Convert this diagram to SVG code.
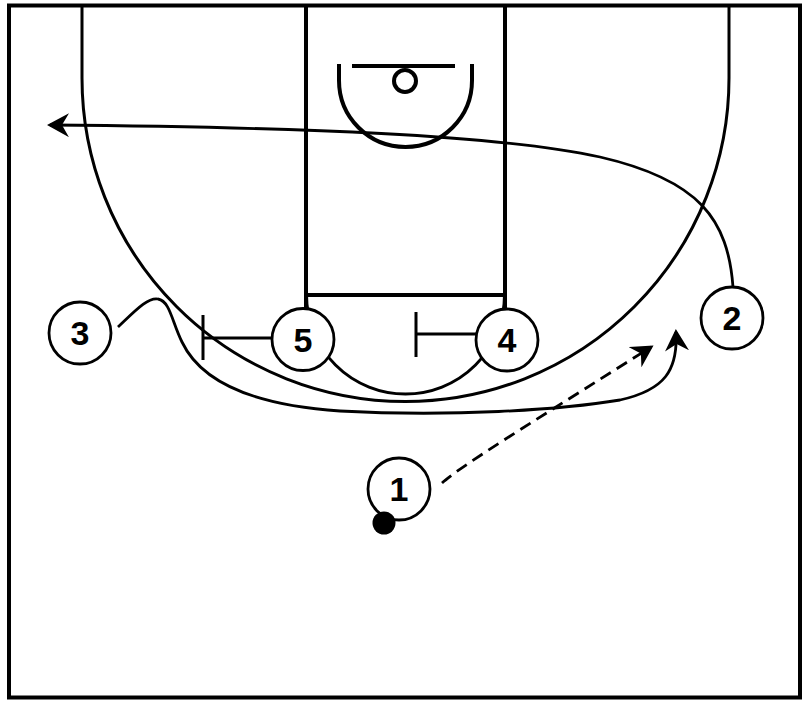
<svg xmlns="http://www.w3.org/2000/svg" width="808" height="704" viewBox="0 0 808 704">
<style>
.court{fill:none;stroke:#000;stroke-width:4}
.line{fill:none;stroke:#000;stroke-width:3}
.move{fill:none;stroke:#000;stroke-width:2.8}
.pass{fill:none;stroke:#000;stroke-width:2.8;stroke-dasharray:12 7}
.player circle{fill:#fff;stroke:#000;stroke-width:2.8}
.player text{font-family:"Liberation Sans",Arial,sans-serif;font-weight:bold;font-size:34px;text-anchor:middle}
</style>
<defs>
<marker id="arrow" markerUnits="userSpaceOnUse" viewBox="0 0 22 24" markerWidth="22" markerHeight="24" refX="19" refY="12" orient="auto">
<path d="M0,0 L22,12 L0,24 L7,12 Z" fill="#000"/>
</marker>
</defs>
<rect width="808" height="704" fill="#fff"/>
<g id="court">
<rect class="court" x="9" y="5.5" width="791" height="692"/>
<path class="court" d="M306,5 L306,312 M505,5 L505,312 M306,295 L505,295"/>
<path class="line" d="M306.5,295 A99,99 0 0 0 504.5,295"/>
<path class="line" d="M82,5 L82,78 A323.5,323.5 0 0 0 729,78 L729,5"/>
<path class="court" d="M339,64 L339,80.5 A66.5,66.5 0 0 0 472,80.5 L472,64"/>
<line class="court" x1="352" y1="66" x2="455" y2="66"/>
<circle class="court" cx="405" cy="81" r="11" stroke-width="3.2"/>
</g>
<g id="connectors">
<path class="move" d="M733,287 C728,220 700,180 600,157 C500,135 300,127 50,125" marker-end="url(#arrow)"/>
<path class="move" d="M118,327 C135,311 148,297 158,299 C170,301 172,322 182,342 C200,380 250,405 340,411 C450,417 560,410 620,400 C665,390 678,370 676,332" marker-end="url(#arrow)"/>
<path class="pass" d="M442,483 C460,466 560,405 651,347" marker-end="url(#arrow)"/>
<path class="line" d="M272,338 L203,338 M203,315 L203,360"/>
<path class="line" d="M477,334 L416,334 M416,312 L416,357"/>
</g>
<g id="p3" class="player"><circle cx="80" cy="333" r="31"/><text x="80" y="345">3</text></g>
<g id="p5" class="player"><circle cx="303" cy="339.5" r="31"/><text x="303" y="351.5">5</text></g>
<g id="p4" class="player"><circle cx="507" cy="340" r="31"/><text x="507" y="352">4</text></g>
<g id="p2" class="player"><circle cx="732" cy="318" r="31"/><text x="732" y="330">2</text></g>
<g id="p1" class="player"><circle cx="399" cy="489" r="31"/><text x="399" y="501">1</text></g>
<g id="ball"><circle cx="384" cy="523" r="11.5" fill="#000"/></g>
</svg>
